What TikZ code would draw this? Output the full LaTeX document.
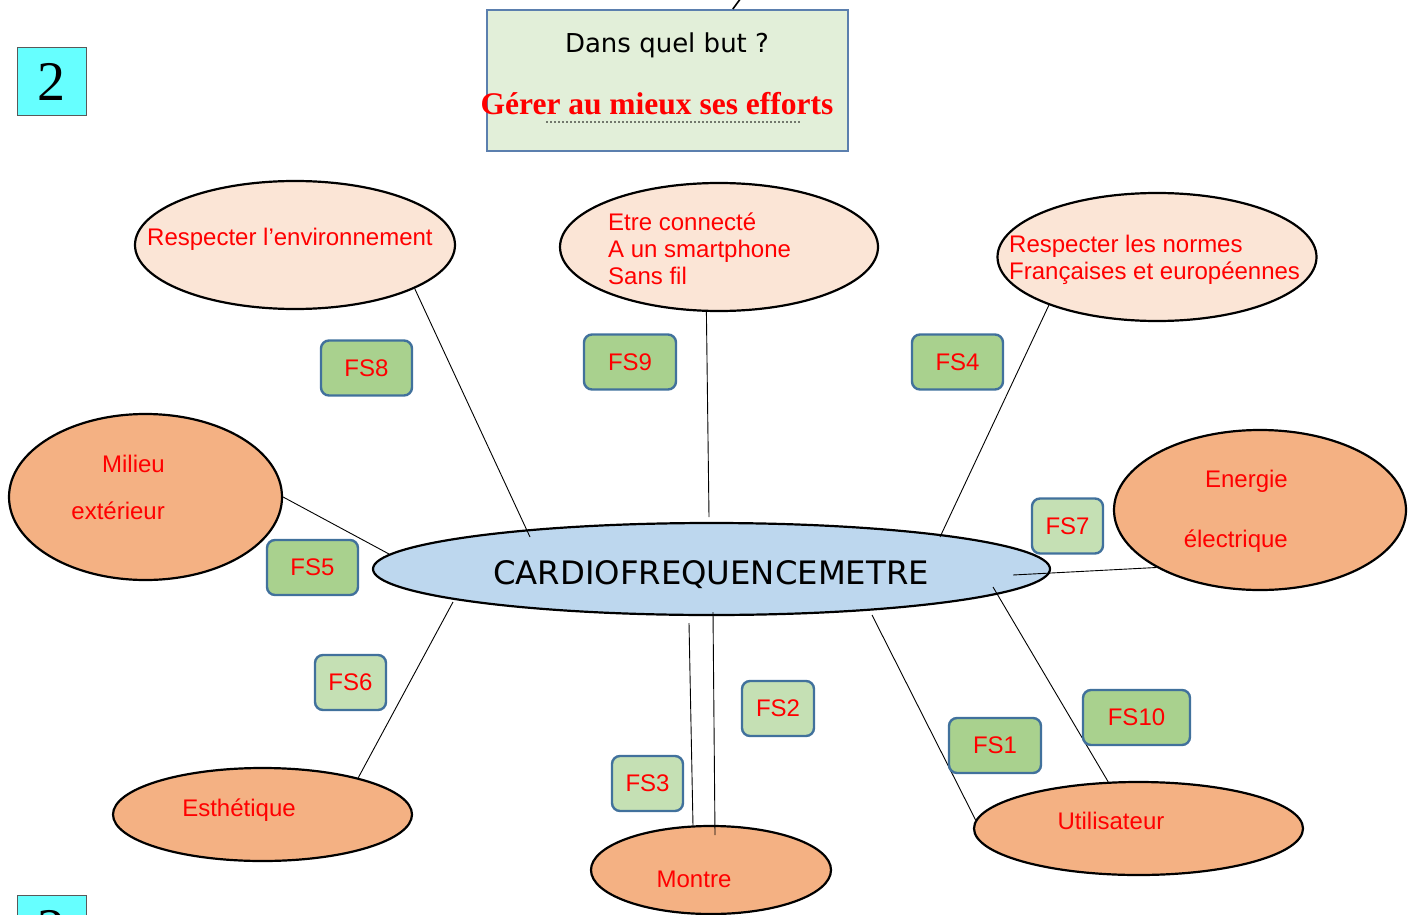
\documentclass[tikz,border=0pt]{standalone}
\usepackage{fontspec}
\setmainfont{Liberation Sans}
\newfontfamily\comic{DejaVu Sans}
\newfontfamily\titre{Liberation Serif}
\usetikzlibrary{shapes.geometric,calc}
\definecolor{peche}{HTML}{FBE5D6}
\definecolor{orange0}{HTML}{F4B183}
\definecolor{bleu0}{HTML}{BDD7EE}
\definecolor{vert0}{HTML}{A9D18E}
\definecolor{vert1}{HTML}{C5E0B4}
\definecolor{vertpale}{HTML}{E2EFD9}
\definecolor{bord}{HTML}{41719C}
\definecolor{bordbut}{HTML}{5B7FAE}
\definecolor{cyan0}{HTML}{66FFFF}
\definecolor{rouge}{HTML}{FF0000}
\tikzset{
  bulle/.style={ellipse,draw=black,line width=2.2pt,inner sep=0pt},
  fsbox/.style={draw=bord,line width=2.4pt,rounded corners=8pt,minimum height=55pt,inner sep=0pt,text=rouge,font=\fontsize{24}{27}\selectfont},
  txt/.style={inner sep=0pt,text=rouge,font=\fontsize{24}{27}\selectfont},
  numero/.style={draw=black!65,line width=1pt,fill=cyan0,minimum width=69pt,minimum height=68pt,inner sep=0pt,font=\titre\fontsize{56}{60}\selectfont},
  fil/.style={line width=0.9pt}
}
\newcommand{\blob}[5]{\node[bulle,fill=#5,minimum width=#3pt,minimum height=#4pt] (#1) at (#2) {};}
\newcommand{\ver}[2]{\coordinate (#1) at (#2);}
\newcommand{\fs}[4]{\node[fsbox,fill=#4,minimum width=#3pt] (#1) at (#2) {#1};}

\begin{document}
\begin{tikzpicture}[x=1pt,y=-1pt]
  \clip (0,0) rectangle (1418,915);
  % numeros
  \node[numero] (deux) at (51.5,82) {2};
  \node[numero] (deuxbis) at (51.5,929) {2};
  % cadre du but
  \node[draw=bordbut,fill=vertpale,line width=2pt,minimum width=361pt,minimum height=141pt] (but) at (667.5,80.5) {};
  \node[inner sep=0pt,anchor=base,font=\comic\fontsize{26}{30}\selectfont] (quest) at (667,53) {Dans quel but ?};
  \node[inner sep=0pt,anchor=base,text=rouge,font=\titre\bfseries\fontsize{31.5}{34}\selectfont] (gerer) at (657,115) {Gérer au mieux ses efforts};
  \ver{d1}{547,122};
  \ver{d2}{800,122};
  \draw[line width=1.8pt,line cap=round,dash pattern=on 0pt off 4pt] (d1) -- (d2);
  \ver{h1}{741,-2};
  \draw[line width=1.6pt] ($(but.north west)!0.68!(but.north east)$) -- (h1);
  % bulles
  \blob{env}{295,245}{320}{128}{peche};
  \blob{smart}{719,247}{318}{128}{peche};
  \blob{normes}{1157,257}{319}{128}{peche};
  \blob{milieu}{145.5,497}{273}{166}{orange0};
  \blob{energie}{1260,510}{292}{160}{orange0};
  \blob{cardio}{711.5,569}{677}{92}{bleu0};
  \blob{esth}{262.5,814.5}{299}{93}{orange0};
  \blob{montre}{711,870}{240}{88}{orange0};
  \blob{util}{1138.5,828.5}{329}{93}{orange0};
  % textes
  \node[txt,anchor=base west] (tenv) at (147,245) {Respecter l’environnement};
  \node[txt,anchor=north west,align=left] (tsmart) at (608,213) {Etre connecté\\A un smartphone\\Sans fil};
  \node[txt,anchor=north west,align=left] (tnormes) at (1009,235) {Respecter les normes\\Françaises et européennes};
  \node[txt,anchor=north east,align=right,font=\fontsize{24}{47}\selectfont] (tmilieu) at (165,455) {Milieu\\extérieur};
  \node[txt,anchor=north east,align=right,font=\fontsize{24}{60}\selectfont] (tenergie) at (1288,470) {Energie\\électrique};
  \node[txt,anchor=base] (testh) at (239,816) {Esthétique};
  \node[txt,anchor=base] (tmontre) at (694,887) {Montre};
  \node[txt,anchor=base] (tutil) at (1111,829) {Utilisateur};
  \node[inner sep=0pt,anchor=base,font=\comic\fontsize{32.3}{36}\selectfont] (tcardio) at (711,584) {CARDIOFREQUENCEMETRE};
  % liaisons
  \ver{a2}{530,537};
  \ver{b2}{709,517};
  \ver{c2}{940,537};
  \ver{m2}{389,554};
  \ver{e2}{1013,575};
  \ver{s1}{453,602};
  \ver{o1}{689,623};
  \ver{o3}{713,612};
  \ver{o4}{715,835};
  \ver{u1}{872,615};
  \ver{u3}{993,587};
  \draw[fil] (env.-20.6) -- (a2);
  \draw[fil] (smart.-101.5) -- (b2);
  \draw[fil] (normes.204.6) -- (c2);
  \draw[fil] (milieu.east) -- (m2);
  \draw[fil] (energie.209.3) -- (e2);
  \draw[fil] (esth.21.1) -- (s1);
  \draw[fil] (montre.112.9) -- (o1);
  \draw[fil] (o4) -- (o3);
  \draw[fil] (util.177.7) -- (u1);
  \draw[fil] (util.123.8) -- (u3);
  % fonctions
  \fs{FS8}{366.5,368}{91}{vert0};
  \fs{FS9}{630,362}{92}{vert0};
  \fs{FS4}{957.5,362}{91}{vert0};
  \fs{FS7}{1067.5,526}{71}{vert1};
  \fs{FS5}{312.5,567.5}{91}{vert0};
  \fs{FS6}{350.5,682.5}{71}{vert1};
  \fs{FS2}{778,708.5}{72}{vert1};
  \fs{FS3}{647.5,783.5}{71}{vert1};
  \fs{FS1}{995,745.5}{92}{vert0};
  \fs{FS10}{1136.5,717.5}{107}{vert0};
\end{tikzpicture}
\end{document}
